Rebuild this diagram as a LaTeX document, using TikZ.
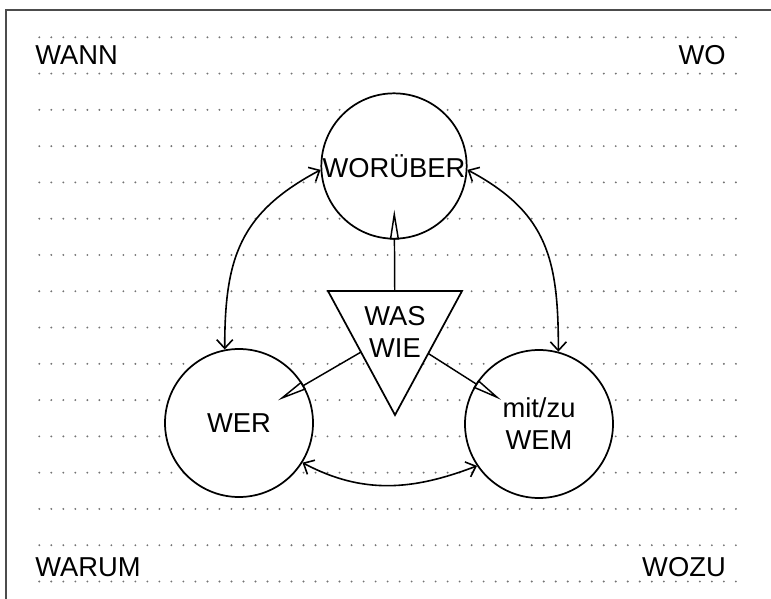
\documentclass[tikz,border=0pt]{standalone}
\usepackage{fontspec}
\setmainfont{Liberation Sans}
\usetikzlibrary{arrows.meta}
\begin{document}
\begin{tikzpicture}[x=0.75pt, y=0.75pt,
  >={Straight Barb[length=6.5pt, width=12pt]},
  frame/.style={line width=1.5pt, draw=black!70},
  griddot/.style={fill=black!55},
  lbl/.style={inner sep=0pt, font=\fontsize{20.5}{24}\selectfont},
  topic/.style={circle, draw, line width=1.3pt, fill=white, inner sep=0pt,
    minimum size=111pt, align=center, font=\fontsize{20.5}{24}\selectfont},
  link/.style={line width=1.2pt, <->},
  spike/.style={line width=1.1pt, -{Triangle[open, length=22.5pt, width=6.75pt]},
    shorten >=-22.5pt},
  core/.style={line width=1.3pt, draw, fill=white}]
\useasboundingbox (0,0) rectangle (771,-599);

% ruled background
\foreach \r in {0,...,15}
  \foreach \c in {0,...,58}
    \fill[griddot] (39.3+12.01*\c, -37.3-36.28*\r) circle (0.8pt);

% frame
\draw[frame] (5.5,-599) -- (5.5,-10.5) -- (771,-10.5);

% corner questions
\node[lbl, anchor=base west] (wann)  at (35,-65)  {WANN};
\node[lbl, anchor=base east] (wo)    at (726,-65) {WO};
\node[lbl, anchor=base west] (warum) at (35,-576) {WARUM};
\node[lbl, anchor=base east] (wozu)  at (726,-576) {WOZU};

% the three circles
\node[topic, minimum size=109pt] (wor) at (394,-166) {WORÜBER};
\node[topic] (wer) at (239,-423) {WER};
\node[topic] (wem) at (539,-424) {mit/zu\\WEM};

% centre of the triangle
\coordinate (tc) at (395,-332.3);

% arrows from the triangle into the circles
\draw[spike] (tc) -- (wor);
\draw[spike] (tc) -- (wer);
\draw[spike] (tc) -- (wem);

% curved double arrows between the circles
\draw[link] (wer.101) to[out=90, in=208, looseness=1.15] (wor.183);
\draw[link] (wem.75) to[out=90, in=-28, looseness=1.15] (wor.-3);
\draw[link] (wer.-32) to[out=-28, in=201] (wem.214);

% triangle
\coordinate (tl) at (328,-291);
\coordinate (tr) at (462,-291);
\coordinate (tb) at (395,-415);
\draw[core] (tl) -- (tr) -- (tb) -- cycle;
\node[lbl, align=center] (was) at (tc) {WAS\\WIE};
\end{tikzpicture}
\end{document}
